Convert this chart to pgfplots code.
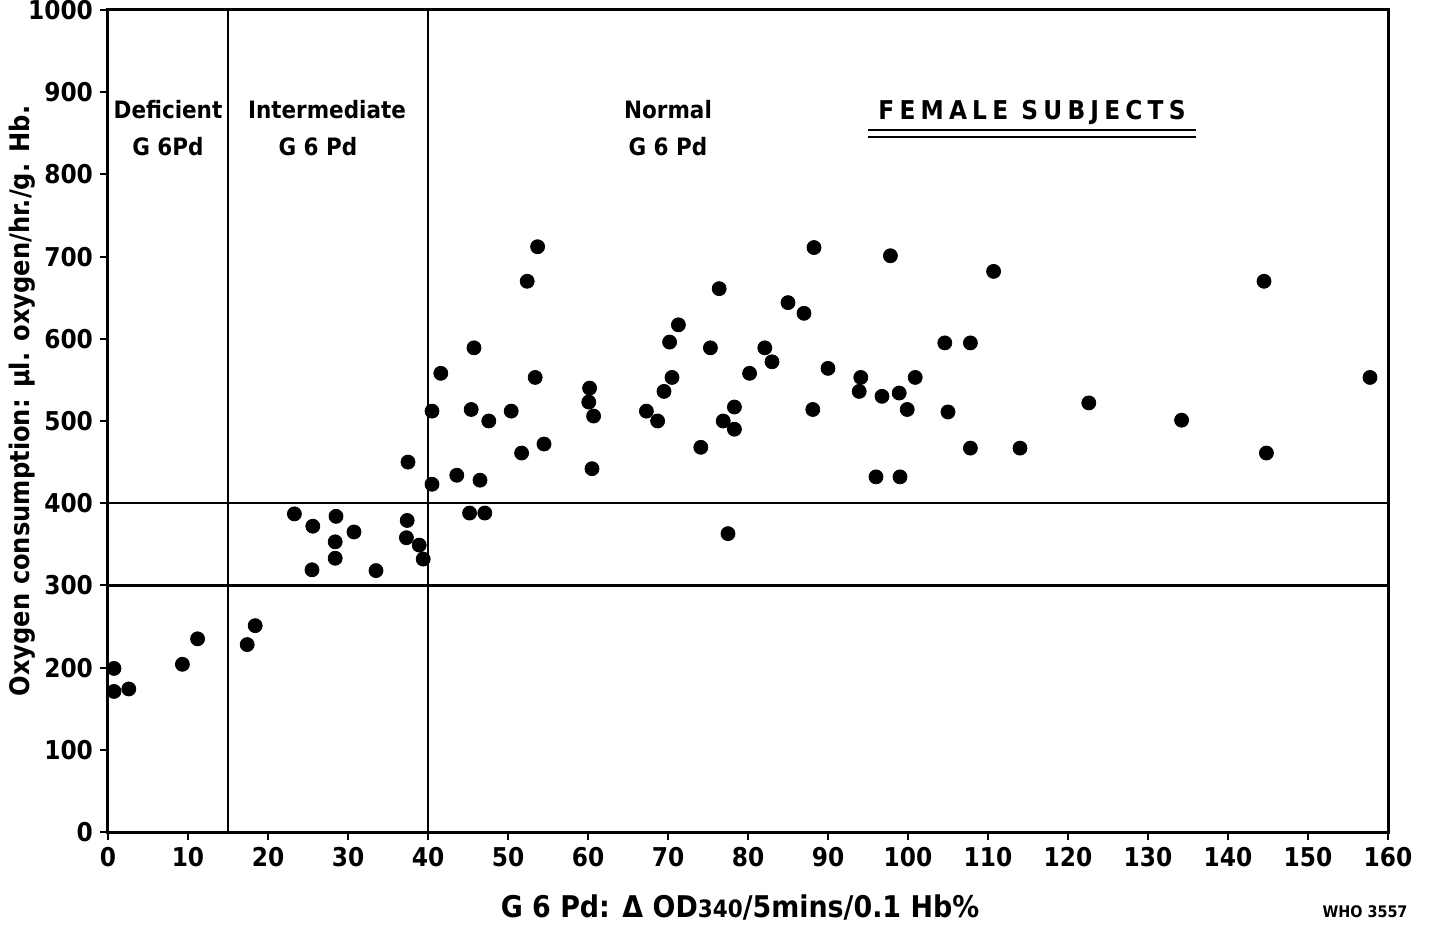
\documentclass[border=0pt]{standalone}
\usepackage{fontspec}
\setmainfont{DejaVu Sans Condensed}
\usepackage{pgfplots}
\pgfplotsset{compat=1.18}
\begin{document}
\begin{tikzpicture}
\useasboundingbox (-54bp,-48.5bp) rectangle (661.5bp,416bp);
\begin{axis}[
  at={(0,0)}, anchor=south west,
  scale only axis, width=640bp, height=411bp,
  xmin=0, xmax=160, ymin=0, ymax=1000,
  xtick={0,10,...,160}, ytick={0,100,...,1000},
  xtick pos=bottom, ytick pos=left,
  tick align=outside, major tick length=4bp,
  axis line style={line width=1.5bp},
  tick style={line width=1bp, black},
  ticklabel style={font=\bfseries\fontsize{13}{15}\selectfont},
  /pgf/number format/assume math mode=true,
  /pgf/number format/1000 sep={},
  clip=false,
]
\draw[line width=1.2bp] (axis cs:15,0) -- (axis cs:15,1000);
\draw[line width=1.2bp] (axis cs:40,0) -- (axis cs:40,1000);
\draw[line width=1.2bp] (axis cs:0,300) -- (axis cs:160,300);
\draw[line width=1.2bp] (axis cs:0,400) -- (axis cs:160,400);
\addplot[only marks, mark=*, mark size=3.5bp, black] table {
x y
0.75 199
0.75 171
2.6 174
9.3 204
11.2 235
17.4 228
18.4 251
23.3 387
25.6 372
25.5 319
28.5 384
28.4 353
28.4 333
30.75 365
33.5 318
37.4 379
37.3 358
37.5 450
38.9 349
39.4 332
40.5 423
40.5 512
41.6 558
43.6 434
45.2 388
45.4 514
45.75 589
46.5 428
47.1 388
47.6 500
50.4 512
51.7 461
52.4 670
53.4 553
53.7 712
54.5 472
60.2 540
60.1 523
60.7 506
60.5 442
67.3 512
68.7 500
69.5 536
70.5 553
70.2 596
71.3 617
74.1 468
75.3 589
76.4 661
76.9 500
77.5 363
78.3 517
78.3 490
80.2 558
82.1 589
83.0 572
85.0 644
87.0 631
88.25 711
88.1 514
90.0 564
94.1 553
93.9 536
96.0 432
96.75 530
97.8 701
98.9 534
99.0 432
99.9 514
100.9 553
104.6 595
105.0 511
107.8 595
107.8 467
110.7 682
114.0 467
122.6 522
134.2 501
144.5 670
144.8 461
157.75 553
};
\end{axis}
% region labels
\begin{scope}[every node/.style={font=\bfseries\fontsize{12}{14}\selectfont}]
\node at (30bp,361bp) {Deficient};
\node at (30bp,342.5bp) {G 6Pd};
\node at (109.5bp,361bp) {Intermediate};
\node at (105bp,342.5bp) {G 6 Pd};
\node at (280bp,361bp) {Normal};
\node at (280bp,342.5bp) {G 6 Pd};
\end{scope}
\node[font=\bfseries\fontsize{13}{15}\selectfont\addfontfeatures{LetterSpace=20}] at (462bp,360bp) {FEMALE SUBJECTS};
\draw[line width=1.4bp] (380bp,351bp) -- (544bp,351bp);
\draw[line width=1bp] (380bp,347.5bp) -- (544bp,347.5bp);
% axis labels
\node[rotate=90, font=\bfseries\fontsize{13.5}{15}\selectfont] at (-43bp,215.5bp) {Oxygen consumption: µl. oxygen/hr./g. Hb.};
\node[font=\bfseries\fontsize{15}{17}\selectfont] at (316bp,-38bp) {G 6 Pd: Δ OD{\fontsize{12}{14}\selectfont 340}/5mins/0.1 Hb\%};
\node[font=\bfseries\fontsize{8}{10}\selectfont] at (628.5bp,-40bp) {WHO 3557};
\end{tikzpicture}
\end{document}
